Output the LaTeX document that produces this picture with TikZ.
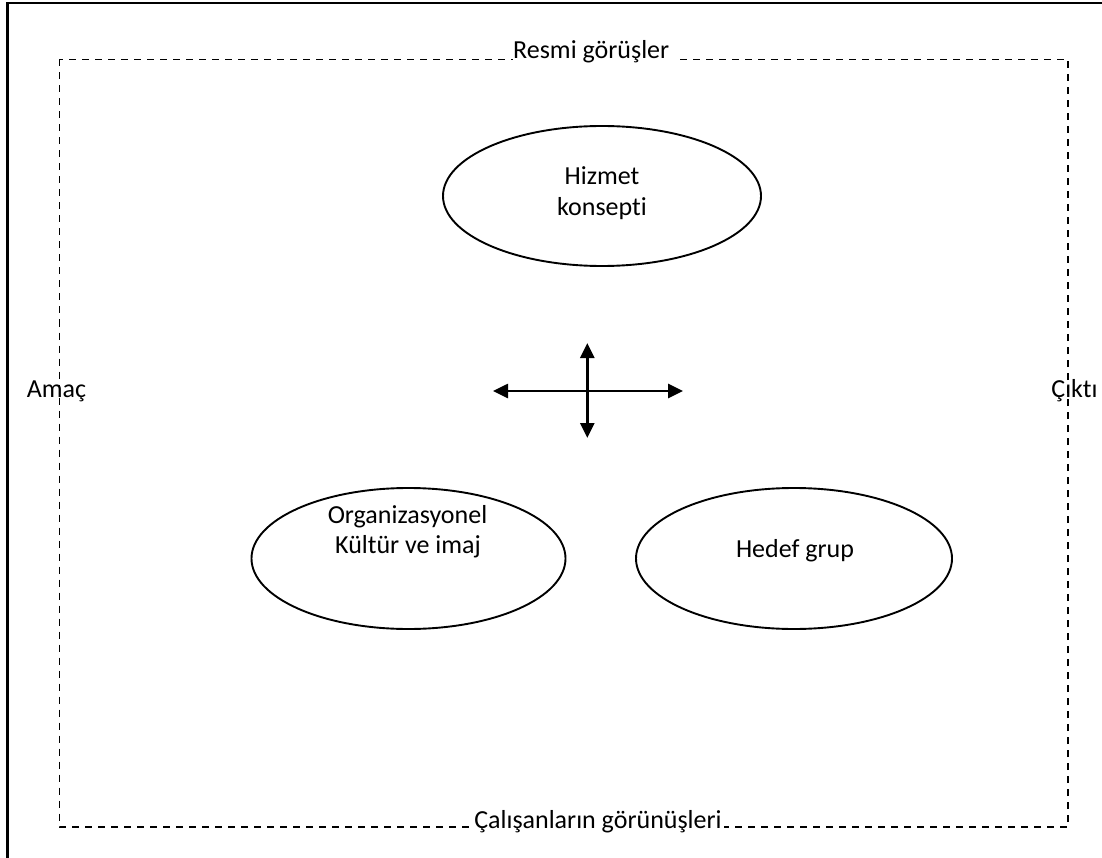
\documentclass[tikz,border=0pt]{standalone}
\usepackage{fontspec}
\setmainfont[Ligatures=NoCommon]{Carlito}
\usetikzlibrary{shapes.geometric,arrows.meta}

\tikzset{
  frameline/.style={line width=2.4pt, line cap=butt},
  boundary/.style={line width=1.7pt, dash pattern=on 7pt off 6pt},
  bubble/.style={draw, ellipse, line width=1.9pt, inner sep=0pt},
  txt/.style={font=\fontsize{26}{31}\selectfont, inner sep=0pt, anchor=base},
  edgetxt/.style={txt, fill=white, inner xsep=3pt},
  flow/.style={line width=2.6pt, {Triangle[length=15pt,width=14pt]}-{Triangle[length=15pt,width=14pt]}}
}

\begin{document}
\begin{tikzpicture}[x=1pt, y=-1pt]
  \useasboundingbox (0,0) rectangle (1102,858);

  % outer frame (left and top edges)
  \coordinate (fbl) at (7.5,858);
  \coordinate (ftl) at (7.5,3);
  \coordinate (ftr) at (1102,3);
  \draw[frameline] (fbl) -- (ftl) -- (ftr);

  % dashed boundary
  \coordinate (btl) at (59.5,59.5);
  \coordinate (bbr) at (1068,827);
  \draw[boundary] (btl) rectangle (bbr);

  % boundary labels
  \node[edgetxt, anchor=base west, inner xsep=0pt] (top) at (513,59) {Resmi görüşler~~};
  \node[edgetxt, inner xsep=2pt] (bottom) at (598,828) {Çalışanların görünüşleri};
  \node[txt] (left) at (56.5,397) {Amaç};
  \node[txt] (right) at (1074.5,397) {Çıktı};

  % the three elements
  \node[bubble, minimum width=318pt, minimum height=140pt] (hizmet) at (602,196) {};
  \node[bubble, minimum width=314pt, minimum height=141pt] (org) at (408.5,558.5) {};
  \node[bubble, minimum width=316pt, minimum height=141pt] (hedef) at (794,558.5) {};

  \node[txt] (hizmet1) at (602,185) {Hizmet};
  \node[txt] (hizmet2) at (602,216) {konsepti};
  \node[txt] (org1) at (407.5,523) {Organizasyonel};
  \node[txt] (org2) at (408,553) {Kültür ve imaj};
  \node[txt] (hedef1) at (795,557) {Hedef grup};

  % interaction cross
  \coordinate (hl) at (493,391);
  \coordinate (hr) at (683,391);
  \coordinate (vt) at (587.3,343);
  \coordinate (vb) at (587.3,438);
  \draw[flow] (hl) -- (hr);
  \draw[flow] (vt) -- (vb);
\end{tikzpicture}
\end{document}
